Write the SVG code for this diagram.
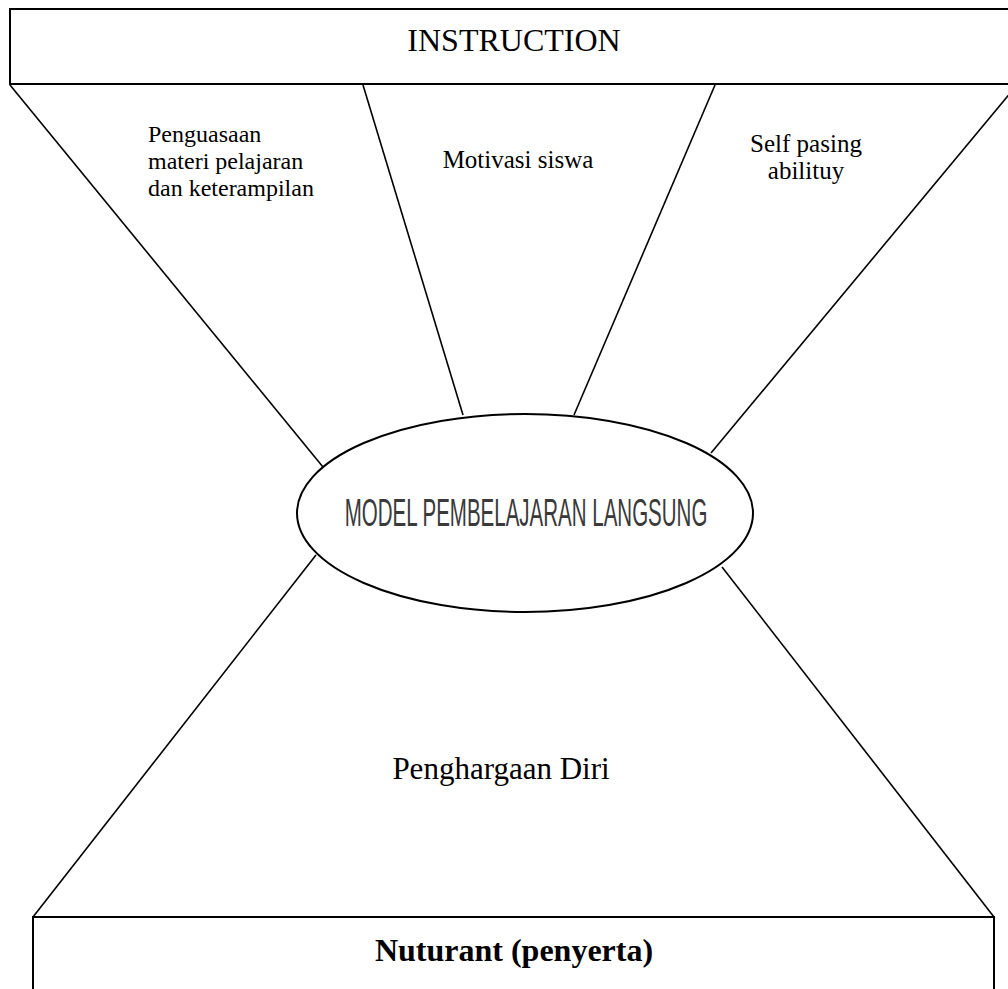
<svg xmlns="http://www.w3.org/2000/svg" width="1008" height="989" viewBox="0 0 1008 989">
<style>
.box{fill:#fff;stroke:#000;stroke-width:2}
.ln{stroke:#000;stroke-width:1.6;fill:none}
.serif{font-family:"Liberation Serif","Times New Roman",serif;fill:#000}
.sans{font-family:"Liberation Sans",Arial,sans-serif;fill:#3a3a3a}
</style>
<rect width="1008" height="989" fill="#fff"/>
<g id="connectors">
<line class="ln" x1="10" y1="85" x2="323" y2="467"/>
<line class="ln" x1="363" y1="85" x2="463" y2="415"/>
<line class="ln" x1="715" y1="85" x2="574" y2="415"/>
<line class="ln" x1="1017" y1="85" x2="711" y2="453"/>
<line class="ln" x1="316" y1="555" x2="33" y2="917"/>
<line class="ln" x1="722" y1="567" x2="994" y2="917"/>
</g>
<g id="instruction">
<rect class="box" x="10" y="9" width="1020" height="75"/>
<text class="serif" x="514" y="51" font-size="32" text-anchor="middle">INSTRUCTION</text>
</g>
<g id="penguasaan">
<text class="serif" x="148" y="142" font-size="24">Penguasaan</text>
<text class="serif" x="148" y="169" font-size="24">materi pelajaran</text>
<text class="serif" x="148" y="196" font-size="24">dan keterampilan</text>
</g>
<g id="motivasi">
<text class="serif" x="518" y="168" font-size="25" text-anchor="middle">Motivasi siswa</text>
</g>
<g id="selfpasing">
<text class="serif" x="806" y="152" font-size="25" text-anchor="middle">Self pasing</text>
<text class="serif" x="806" y="179" font-size="25" text-anchor="middle">abilituy</text>
</g>
<g id="model">
<ellipse cx="525" cy="513" rx="228" ry="99" fill="#fff" stroke="#000" stroke-width="2"/>
<text class="sans" transform="translate(526,526) scale(0.54,1)" x="0" y="0" font-size="38" text-anchor="middle">MODEL PEMBELAJARAN LANGSUNG</text>
</g>
<g id="penghargaan">
<text class="serif" x="501" y="779" font-size="31" text-anchor="middle">Penghargaan Diri</text>
</g>
<g id="nuturant">
<rect class="box" x="33" y="917" width="961" height="90"/>
<text class="serif" x="514" y="961" font-size="32" font-weight="bold" text-anchor="middle">Nuturant (penyerta)</text>
</g>
</svg>
